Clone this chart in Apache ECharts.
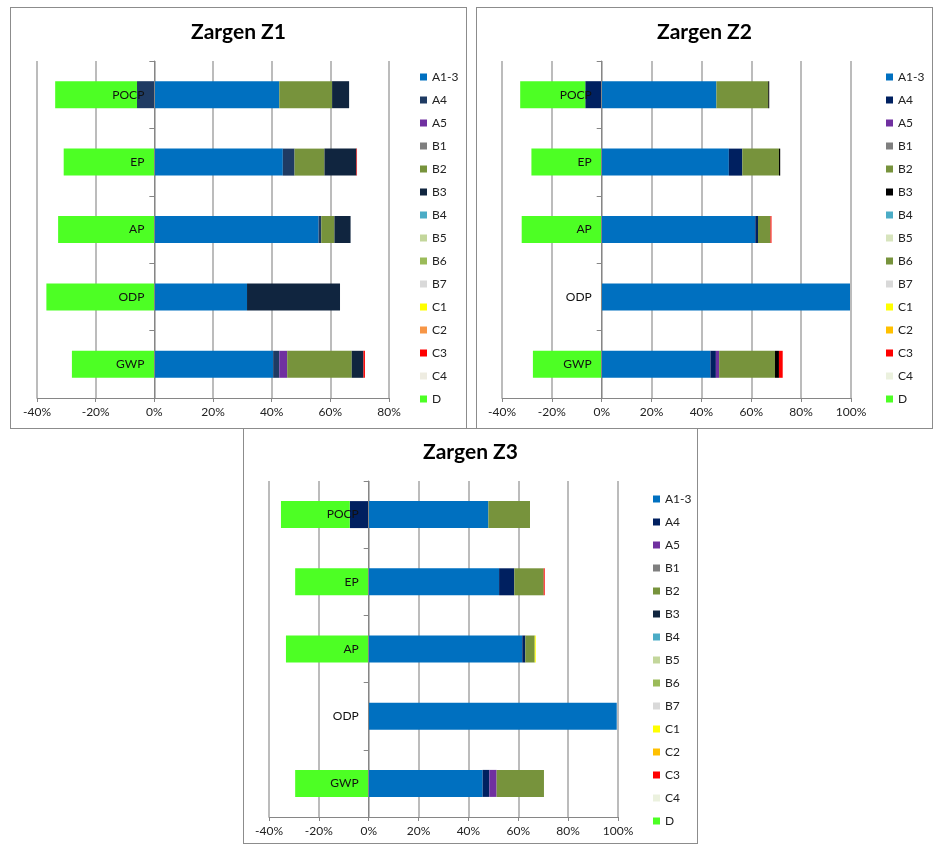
<!DOCTYPE html>
<html>
<head>
<meta charset="utf-8">
<script src="https://cdn.jsdelivr.net/npm/echarts@6/dist/echarts.min.js"></script>
<style>
  html, body { margin: 0; padding: 0; background: #ffffff; }
  body { width: 936px; height: 844px; position: relative; overflow: hidden; }
  .panel { position: absolute; box-sizing: border-box; border: 1px solid #8c8c8c; background: #fff; }
</style>
</head>
<body>
<div id="z1" class="panel" style="left:10px;top:7px;width:457px;height:422px;"></div>
<div id="z2" class="panel" style="left:476px;top:7px;width:457px;height:422px;"></div>
<div id="z3" class="panel" style="left:243px;top:428px;width:455px;height:416px;"></div>
<script>
// Categories bottom -> top
const categories = ['GWP', 'ODP', 'AP', 'EP', 'POCP'];
const seriesNames = ['A1-3','A4','A5','B1','B2','B3','B4','B5','B6','B7','C1','C2','C3','C4','D'];
const zeros = [0, 0, 0, 0, 0];

// Zargen Z1 values (%), order: GWP, ODP, AP, EP, POCP
const z1_A1_3 = [40.5, 31.6, 56.0, 43.8, 42.6];
const z1_A4   = [2.1, 0, 0.9, 4.0, -5.9];
const z1_A5   = [2.7, 0, 0, 0, 0];
const z1_B2   = [22.0, 0, 4.5, 10.2, 18.0];
const z1_B3   = [4.0, 31.7, 5.5, 10.9, 5.8];
const z1_C3   = [0.5, 0, 0, 0.2, 0];
const z1_D    = [-28.1, -36.8, -32.8, -30.9, -27.9];

// Zargen Z2 values (%)
const z2_A1_3 = [43.6, 99.6, 61.6, 51.0, 46.0];
const z2_A4   = [2.2, 0, 1.1, 5.4, -6.6];
const z2_A5   = [1.3, 0, 0, 0, 0];
const z2_B2   = [22.4, 0, 5.0, 14.7, 20.8];
const z2_B3   = [1.6, 0, 0, 0.5, 0.4];
const z2_C3   = [1.5, 0, 0.4, 0, 0];
const z2_D    = [-27.6, -0.3, -32.1, -28.2, -26.1];

// Zargen Z3 values (%)
const z3_A1_3 = [45.7, 99.5, 61.6, 52.3, 48.0];
const z3_A4   = [2.7, 0, 1.2, 6.1, -7.6];
const z3_A5   = [2.9, 0, 0, 0, 0];
const z3_B2   = [19.0, 0, 3.8, 11.8, 16.7];
const z3_C1   = [0, 0, 0.4, 0, 0];
const z3_C3   = [0, 0, 0, 0.4, 0];
const z3_D    = [-29.5, 0, -33.2, -29.5, -27.6];

// x-axis ranges
const z1_xMin = -40, z1_xMax = 80;
const z2_xMin = -40, z2_xMax = 100;
const z3_xMin = -40, z3_xMax = 100;
const xStep = 20;

// Colours per panel (same order as seriesNames)
const z1_colors = ['#0070C0','#1F3B63','#7030A0','#7F7F7F','#77933C','#10253F','#4BACC6','#C3D69B','#9BBB59','#D9D9D9','#FFFF00','#F79646','#FF0000','#EEECE1','#4DFF24'];
const z2_colors = ['#0070C0','#002060','#7030A0','#7F7F7F','#77933C','#000000','#4BACC6','#D7E4BD','#77933C','#D9D9D9','#FFFF00','#FFC000','#FF0000','#EBF1DE','#4DFF24'];
const z3_colors = ['#0070C0','#002060','#7030A0','#7F7F7F','#77933C','#10253F','#4BACC6','#C3D69B','#9BBB59','#D9D9D9','#FFFF00','#FFC000','#FF0000','#EBF1DE','#4DFF24'];

const FONT = 'Lato, "Open Sans", sans-serif';

function buildOption(title, valuesByName, colors, xMin, xMax, layout) {
  const series = seriesNames.map((name, i) => ({
    name: name,
    type: 'bar',
    stack: 'total',
    barWidth: layout.barWidth,
    data: valuesByName[name] || zeros,
    itemStyle: { color: colors[i] },
    emphasis: { disabled: true },
    animation: false
  }));
  // place the category axis where the value axis crosses zero
  const zeroOffset = -layout.gridWidth * (0 - xMin) / (xMax - xMin);
  return {
    animation: false,
    textStyle: { fontFamily: FONT },
    title: {
      text: title,
      left: 'center',
      top: layout.titleTop,
      padding: 0,
      textStyle: { fontFamily: FONT, fontSize: 21, fontWeight: 'bold', color: '#000' }
    },
    legend: {
      orient: 'vertical',
      left: layout.legendLeft,
      top: layout.legendTop,
      padding: 0,
      icon: 'rect',
      itemWidth: 7,
      itemHeight: 7,
      itemGap: 9,
      selectedMode: false,
      textStyle: { fontFamily: FONT, fontSize: 12, color: '#222', lineHeight: 14 },
      data: seriesNames.map((n, i) => ({ name: n, itemStyle: { color: colors[i] } }))
    },
    grid: {
      left: layout.gridLeft,
      top: layout.gridTop,
      width: layout.gridWidth,
      height: layout.gridHeight,
      containLabel: false,
      outerBoundsMode: 'none'
    },
    xAxis: {
      type: 'value',
      min: xMin,
      max: xMax,
      interval: xStep,
      axisLine: { show: true, onZero: false, lineStyle: { color: '#868686', width: 1 } },
      axisTick: { show: true, length: 4, lineStyle: { color: '#868686' } },
      splitLine: { show: true, lineStyle: { color: '#A6A6A6', width: 1.5 } },
      axisLabel: { formatter: '{value}%', fontFamily: FONT, fontSize: 12, color: '#222', margin: 8 }
    },
    yAxis: {
      type: 'category',
      data: categories,
      position: 'left',
      offset: zeroOffset,
      z: 5,
      axisLine: { show: true, onZero: false, lineStyle: { color: '#868686', width: 1 } },
      axisTick: { show: true, length: 5, inside: false, lineStyle: { color: '#868686' } },
      splitLine: { show: false },
      axisLabel: { fontFamily: FONT, fontSize: 12, color: '#111', margin: 10 }
    },
    series: series
  };
}

const z1 = echarts.init(document.getElementById('z1'), null, { renderer: 'canvas' });
z1.setOption(buildOption('Zargen Z1',
  { 'A1-3': z1_A1_3, 'A4': z1_A4, 'A5': z1_A5, 'B2': z1_B2, 'B3': z1_B3, 'C3': z1_C3, 'D': z1_D },
  z1_colors, z1_xMin, z1_xMax,
  { titleTop: 14, legendLeft: 409, legendTop: 62, gridLeft: 26, gridTop: 53, gridWidth: 352, gridHeight: 337, barWidth: 27 }));

const z2 = echarts.init(document.getElementById('z2'), null, { renderer: 'canvas' });
z2.setOption(buildOption('Zargen Z2',
  { 'A1-3': z2_A1_3, 'A4': z2_A4, 'A5': z2_A5, 'B2': z2_B2, 'B3': z2_B3, 'C3': z2_C3, 'D': z2_D },
  z2_colors, z2_xMin, z2_xMax,
  { titleTop: 14, legendLeft: 409, legendTop: 62, gridLeft: 25, gridTop: 53, gridWidth: 349, gridHeight: 337, barWidth: 27 }));

const z3 = echarts.init(document.getElementById('z3'), null, { renderer: 'canvas' });
z3.setOption(buildOption('Zargen Z3',
  { 'A1-3': z3_A1_3, 'A4': z3_A4, 'A5': z3_A5, 'B2': z3_B2, 'C1': z3_C1, 'C3': z3_C3, 'D': z3_D },
  z3_colors, z3_xMin, z3_xMax,
  { titleTop: 13, legendLeft: 409, legendTop: 63, gridLeft: 25, gridTop: 52, gridWidth: 349, gridHeight: 336, barWidth: 27 }));
</script>
</body>
</html>
